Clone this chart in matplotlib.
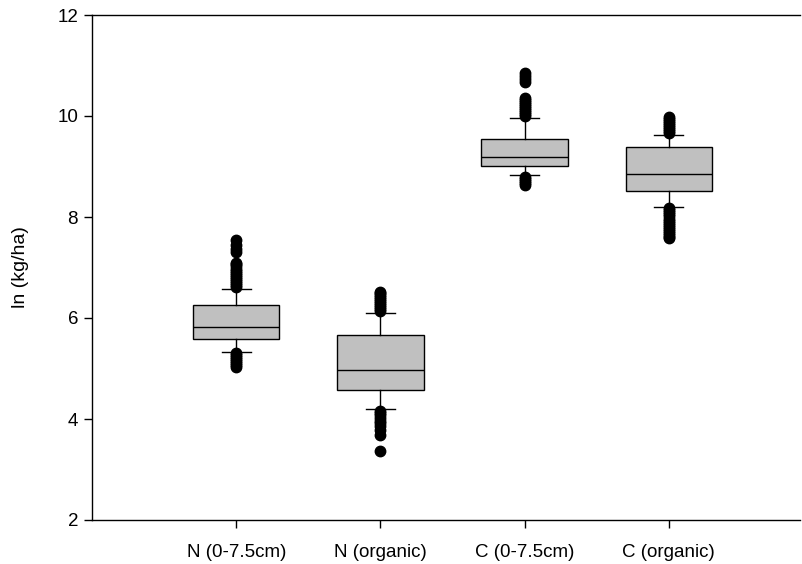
import matplotlib
matplotlib.use("Agg")
import matplotlib.pyplot as plt

plt.rcParams["font.family"] = ["Liberation Sans", "DejaVu Sans"]

labels = ["N (0-7.5cm)", "N (organic)", "C (0-7.5cm)", "C (organic)"]
q1 = [5.58, 4.57, 9.01, 8.51]
median = [5.82, 4.98, 9.19, 8.86]
q3 = [6.25, 5.66, 9.55, 9.38]
whisker_low = [5.33, 4.19, 8.83, 8.20]
whisker_high = [6.57, 6.09, 9.97, 9.62]

outliers_n_top = [5.30, 5.26, 5.22, 5.18, 5.14, 5.10, 5.06, 5.03,
                  6.62, 6.66, 6.70, 6.74, 6.78, 6.82, 6.86, 6.90, 6.94,
                  6.98, 7.02, 7.06, 7.09, 7.30, 7.36, 7.45, 7.55]
outliers_n_org = [4.16, 4.12, 4.07, 4.02, 3.97, 3.92, 3.86, 3.79, 3.68, 3.37,
                  6.13, 6.17, 6.21, 6.25, 6.29, 6.33, 6.37, 6.41, 6.45,
                  6.49, 6.52]
outliers_c_top = [8.80, 8.76, 8.72, 8.68, 8.64,
                  10.00, 10.04, 10.08, 10.12, 10.16, 10.20, 10.24, 10.28,
                  10.32, 10.36, 10.67, 10.73, 10.79, 10.85]
outliers_c_org = [8.17, 8.13, 8.09, 8.05, 8.01, 7.97, 7.93, 7.89, 7.85,
                  7.81, 7.77, 7.73, 7.69, 7.65, 7.61, 7.58,
                  9.66, 9.70, 9.74, 9.78, 9.82, 9.86, 9.90, 9.94, 9.98]
outliers = [outliers_n_top, outliers_n_org, outliers_c_top, outliers_c_org]

stats = []
for i in range(len(labels)):
    stats.append({
        "label": labels[i],
        "q1": q1[i], "med": median[i], "q3": q3[i],
        "whislo": whisker_low[i], "whishi": whisker_high[i],
        "fliers": outliers[i],
    })

fig = plt.figure(figsize=(8.02, 5.64), dpi=100)
ax = fig.add_axes([92 / 802, 1 - 520 / 564, 708 / 802, 505 / 564])

line = dict(color="black", linewidth=1.0)
ax.bxp(
    stats,
    positions=[1, 2, 3, 4],
    widths=0.6,
    patch_artist=True,
    boxprops=dict(facecolor="#c0c0c0", edgecolor="black", linewidth=1.0),
    medianprops=line,
    whiskerprops=line,
    capprops=line,
    capwidths=0.2,
    flierprops=dict(marker="o", markerfacecolor="black", markeredgecolor="black",
                    markersize=7.5, linestyle="none"),
)

ax.set_xlim(0, 4.91)
ax.set_ylim(2, 12)
ax.set_yticks([2, 4, 6, 8, 10, 12])
ax.set_ylabel("ln (kg/ha)", fontsize=14, labelpad=20)
ax.tick_params(axis="both", direction="out", length=6, width=1.0, labelsize=13.5, pad=4)
ax.tick_params(axis="x", pad=11)
ax.spines["right"].set_visible(False)
for s in ["left", "bottom", "top"]:
    ax.spines[s].set_linewidth(1.0)

fig.savefig("out.png", dpi=100)
